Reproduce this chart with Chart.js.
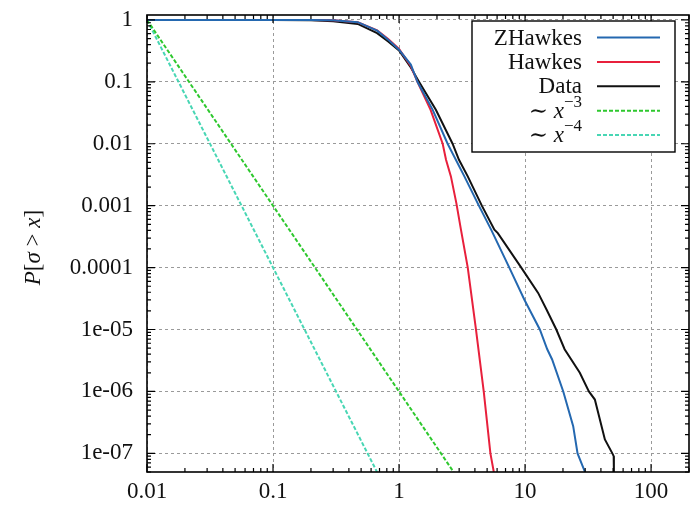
<!DOCTYPE html>
<html>
<head>
<meta charset="utf-8">
<script src="https://cdn.jsdelivr.net/npm/chart.js@4/dist/chart.umd.min.js"></script>
<style>
  html, body { margin: 0; padding: 0; background: #fff; }
</style>
</head>
<body>
<canvas id="grafica" width="695" height="508"></canvas>
<script>
// axis ticks (decades only)
const xTicks = [0.01, 0.1, 1, 10, 100];
const xTickLabels = ['0.01', '0.1', '1', '10', '100'];
const yTicks = [1, 0.1, 0.01, 0.001, 0.0001, 1e-5, 1e-6, 1e-7];
const yTickLabels = ['1', '0.1', '0.01', '0.001', '0.0001', '1e-05', '1e-06', '1e-07'];

const seriesNames = ['ZHawkes', 'Hawkes', 'Data', '\u223C x^\u22123', '\u223C x^\u22124'];

// survival curves P[sigma > x]
const zhawkesX = [0.01, 0.1, 0.2, 0.3, 0.47, 0.67, 0.82, 1.0, 1.24, 1.40, 1.85, 2.43, 3.3, 4.3, 5.38, 7.5, 9.86, 13.1, 15.0, 16.4, 20.1, 24.1, 26.1, 29.9];
const zhawkesY = [1, 1, 0.997, 0.985, 0.92, 0.67, 0.48, 0.33, 0.19, 0.1, 0.0353, 0.01, 0.00297, 0.001, 4.1e-4, 1e-4, 3.05e-5, 1e-5, 4.8e-6, 3.28e-6, 1e-6, 2.75e-7, 1e-7, 5e-8];

const hawkesX = [0.01, 0.1, 0.2, 0.3, 0.47, 0.67, 0.82, 1.0, 1.24, 1.40, 1.78, 2.22, 2.36, 2.58, 2.85, 3.1, 3.51, 4.08, 4.70, 5.31, 5.65];
const hawkesY = [1, 1, 0.997, 0.985, 0.92, 0.68, 0.49, 0.34, 0.18, 0.1, 0.0353, 0.01, 0.0055, 0.00297, 0.0011, 4.1e-4, 1e-4, 1e-5, 1e-6, 1e-7, 5e-8];

const dataX = [0.01, 0.1, 0.2, 0.3, 0.47, 0.67, 0.82, 1.0, 1.24, 1.44, 1.96, 2.66, 2.99, 3.51, 4.54, 5.71, 6.08, 9.33, 12.7, 14.8, 17.7, 20.6, 27.2, 32.1, 35.8, 43.0, 49.3, 50.5, 50.7];
const dataY = [1, 1, 0.985, 0.955, 0.86, 0.61, 0.45, 0.32, 0.17, 0.1, 0.0353, 0.01, 0.0055, 0.00297, 0.001, 4.1e-4, 3.6e-4, 1e-4, 3.9e-5, 2.1e-5, 1e-5, 4.8e-6, 2.0e-6, 1e-6, 7.4e-7, 1.68e-7, 1e-7, 9e-8, 5e-8];

// power-law guides
const pow3X = [0.01, 2.71];
const pow3Y = [1, 5e-8];
const pow4X = [0.01, 0.669];
const pow4Y = [1, 5e-8];

const serif = "'Liberation Serif', 'DejaVu Serif', serif";

function pts(xs, ys) {
  return xs.map((x, i) => ({ x: x, y: ys[i] }));
}

function drawRuns(ctx, runs, x, y, align) {
  let total = 0;
  runs.forEach(r => { ctx.font = r.font; total += ctx.measureText(r.t).width; });
  let cur = align === 'right' ? x - total : align === 'center' ? x - total / 2 : x;
  runs.forEach(r => {
    ctx.font = r.font;
    ctx.fillText(r.t, cur, y + (r.dy || 0));
    cur += ctx.measureText(r.t).width;
  });
}

function labelRuns(name) {
  const m = name.match(/^(\S+) (\w)\^(.+)$/);
  if (!m) return [{ t: name, font: '23px ' + serif }];
  return [
    { t: m[1] + ' ', font: '23px ' + serif },
    { t: m[2], font: 'italic 23px ' + serif },
    { t: m[3], font: '17px ' + serif, dy: -11 }
  ];
}

const frame = {
  id: 'frame',
  afterDatasetsDraw(chart) {
    const ctx = chart.ctx;
    const a = chart.chartArea;
    const xs = chart.scales.x, ys = chart.scales.y;
    ctx.save();
    ctx.strokeStyle = '#000';
    ctx.lineWidth = 1.2;
    // inward major/minor ticks on all four sides
    for (let d = -2; d <= 2; d++) {
      for (let m = 1; m <= 9; m++) {
        const v = m * Math.pow(10, d);
        if (v < xs.min || v > xs.max) continue;
        const px = xs.getPixelForValue(v);
        const len = m === 1 ? 8 : 4;
        ctx.beginPath();
        ctx.moveTo(px, a.bottom); ctx.lineTo(px, a.bottom - len);
        ctx.moveTo(px, a.top); ctx.lineTo(px, a.top + len);
        ctx.stroke();
      }
    }
    for (let d = -8; d <= 0; d++) {
      for (let m = 1; m <= 9; m++) {
        const v = m * Math.pow(10, d);
        if (v < ys.min || v > ys.max) continue;
        const py = ys.getPixelForValue(v);
        const len = m === 1 ? 8 : 4;
        ctx.beginPath();
        ctx.moveTo(a.left, py); ctx.lineTo(a.left + len, py);
        ctx.moveTo(a.right, py); ctx.lineTo(a.right - len, py);
        ctx.stroke();
      }
    }
    ctx.lineWidth = 1.6;
    ctx.strokeRect(a.left, a.top, a.right - a.left, a.bottom - a.top);

    // key box
    const bx = a.right - 217, by = a.top + 6, bw = 203, bh = 131;
    ctx.fillStyle = '#fff';
    ctx.fillRect(bx, by, bw, bh);
    ctx.lineWidth = 1.4;
    ctx.strokeRect(bx, by, bw, bh);
    ctx.textBaseline = 'alphabetic';
    ctx.fillStyle = '#111';
    chart.data.datasets.forEach((ds, i) => {
      const cy = by + 16.5 + i * 24.4;
      drawRuns(ctx, labelRuns(ds.label), bx + 110, cy + 7, 'right');
      ctx.strokeStyle = ds.borderColor;
      ctx.lineWidth = ds.borderWidth;
      ctx.setLineDash(ds.borderDash || []);
      ctx.beginPath();
      ctx.moveTo(bx + 125, cy); ctx.lineTo(bx + 188, cy);
      ctx.stroke();
      ctx.setLineDash([]);
    });

    // y axis title
    ctx.save();
    ctx.translate(40, (a.top + a.bottom) / 2 + 4);
    ctx.rotate(-Math.PI / 2);
    ctx.fillStyle = '#111';
    drawRuns(ctx, [
      { t: 'P', font: 'italic 23px ' + serif },
      { t: '[', font: '23px ' + serif },
      { t: '\u03C3', font: 'italic 23px ' + serif },
      { t: ' > ', font: '23px ' + serif },
      { t: 'x', font: 'italic 23px ' + serif },
      { t: ']', font: '23px ' + serif }
    ], 0, 0, 'center');
    ctx.restore();
    ctx.restore();
  }
};

const line = (label, xs, ys, color, dash) => ({
  label: label,
  data: pts(xs, ys),
  borderColor: color,
  borderWidth: 2,
  borderDash: dash,
  pointRadius: 0,
  tension: 0,
  fill: false
});

new Chart(document.getElementById('grafica'), {
  type: 'line',
  data: {
    datasets: [
      line(seriesNames[0], zhawkesX, zhawkesY, '#2468b0'),
      line(seriesNames[1], hawkesX, hawkesY, '#e8203c'),
      line(seriesNames[2], dataX, dataY, '#111111'),
      line(seriesNames[3], pow3X, pow3Y, '#2ec82e', [4, 2]),
      line(seriesNames[4], pow4X, pow4Y, '#48d6b4', [4, 2])
    ]
  },
  options: {
    responsive: false,
    animation: false,
    layout: { padding: { left: 0, right: 6, top: 15, bottom: 0 } },
    plugins: { legend: { display: false }, tooltip: { enabled: false } },
    scales: {
      x: {
        type: 'logarithmic',
        min: 0.01,
        max: 200,
        afterBuildTicks: s => { s.ticks = xTicks.map(v => ({ value: v })); },
        afterFit: s => { s.height = 36; s.paddingLeft = 0; s.paddingRight = 0; },
        ticks: {
          callback: (v, i) => xTickLabels[i],
          font: { family: serif, size: 23 },
          color: '#111',
          padding: 6,
          maxRotation: 0
        },
        grid: { color: '#9a9a9a', lineWidth: 1, drawTicks: false },
        border: { display: false, dash: [3, 3] }
      },
      y: {
        type: 'logarithmic',
        min: 5e-8,
        max: 1.2,
        afterBuildTicks: s => { s.ticks = yTicks.map(v => ({ value: v })); },
        afterFit: s => { s.width = 147; s.paddingTop = 0; s.paddingBottom = 0; },
        ticks: {
          callback: (v, i) => yTickLabels[i],
          font: { family: serif, size: 23 },
          color: '#111',
          padding: 14
        },
        grid: { color: '#9a9a9a', lineWidth: 1, drawTicks: false },
        border: { display: false, dash: [3, 3] }
      }
    }
  },
  plugins: [frame]
});
</script>
</body>
</html>
